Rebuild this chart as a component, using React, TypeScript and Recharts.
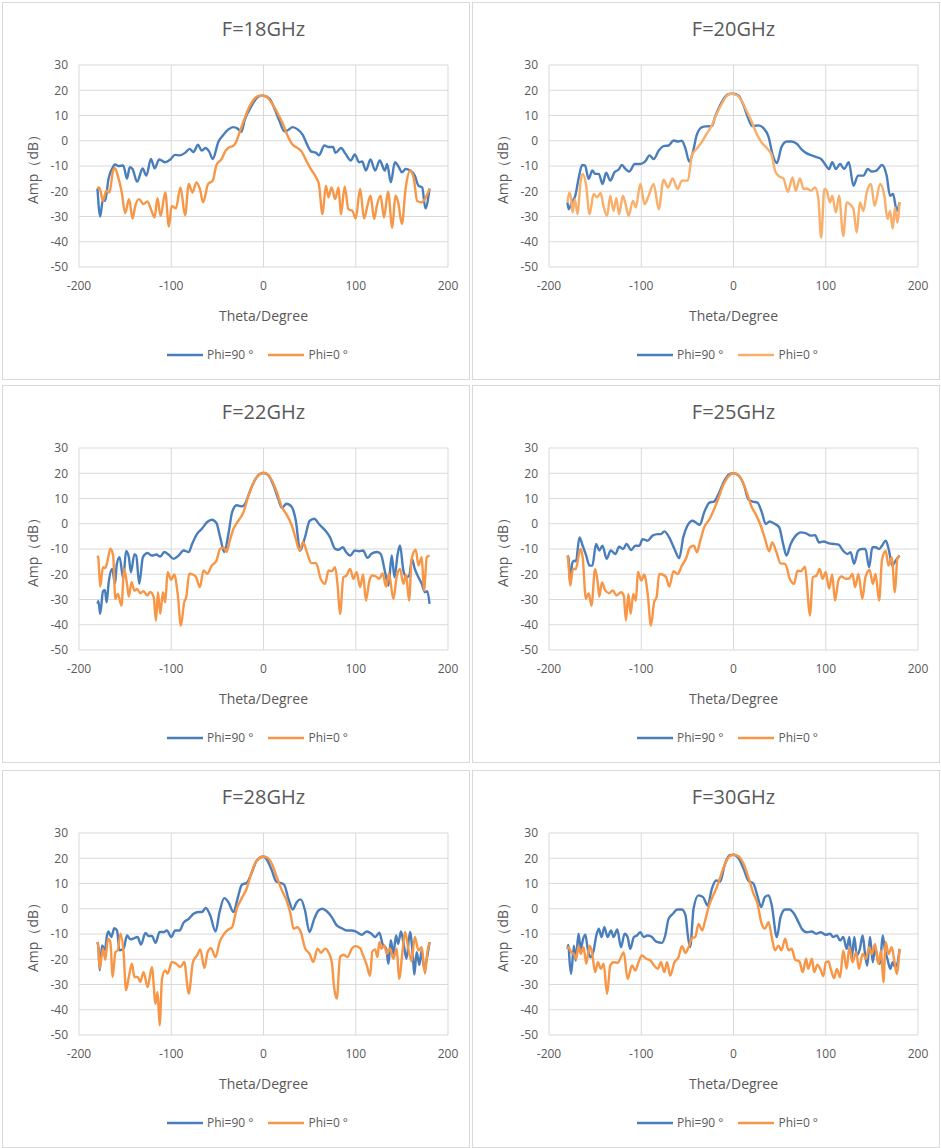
import { LineChart, Line, XAxis, YAxis, CartesianGrid, Legend } from 'recharts';

// Theta (deg) / amplitude (dB)
const THETA_18_P90 = [-180, -177, -174, -171.6, -168, -164, -161, -157, -152, -148, -145, -142, -137, -131, -127, -122, -118, -113, -107, -101, -96, -91, -85, -80, -76, -71, -67, -63, -59, -55, -49, -44, -38, -33, -28, -24, -20.5, -13, -8, -2.5, 0, 6.5, 12, 17, 22.7, 26, 31.7, 37, 42.4, 48, 51.4, 57, 60, 66, 70.5, 75.5, 78, 84, 89, 94.6, 99, 103.6, 107, 111, 116, 121, 126, 131.6, 134, 138, 142.4, 146.8, 150, 154, 159, 164, 168, 172, 175.5, 180];
const AMP_18_P90 = [-18.9, -30, -23, -23.8, -15, -11, -9.4, -10, -9.8, -15, -10.5, -11.2, -16.2, -11, -13.8, -7.2, -10.9, -7.4, -8.5, -7.4, -5.6, -5.8, -4.8, -3.2, -4.5, -1.6, -3.9, -2.9, -4.2, -7.2, -0.5, 2.1, 4.5, 5.4, 4.8, 3.5, 8.1, 13.8, 16.7, 17.8, 17.8, 16.7, 12.7, 8.1, 3.7, 4.1, 5.4, 4.5, 2.4, -2.1, -4.2, -4.8, -5.8, -1.9, -2.5, -2.5, -4.8, -2.9, -5.2, -7.8, -5.4, -8.5, -8.2, -11.8, -7.4, -11.8, -7.8, -11.8, -9.2, -16.5, -8.5, -10.5, -12.5, -11.2, -11.8, -13.8, -17.8, -18.5, -26.8, -19];
const THETA_18_P0 = [-180, -178, -174, -170.5, -167, -163, -161, -158, -153.6, -150, -145.7, -142, -139, -135, -130, -126, -122, -118, -115, -111.5, -106.5, -102.5, -99.6, -95, -90, -85, -81, -77, -72.7, -69, -65.5, -60, -55, -51, -45.7, -41, -36.7, -33, -29.5, -26, -20.5, -15, -9.7, -4.3, 0, 4.7, 10, 15.5, 20.9, 26, 31.7, 37, 41.7, 46.8, 51.4, 57, 60, 64, 67.6, 70.5, 73.7, 77.7, 81.3, 84, 88, 92, 96.4, 100, 104.7, 109, 112.6, 116, 120, 123, 127, 130.6, 135, 139.6, 143, 146, 150, 154, 159, 163, 166.5, 171, 175, 180];
const AMP_18_P0 = [-18.9, -18.5, -23.8, -19.8, -20.5, -11.8, -10.9, -13.8, -20.5, -28.7, -23.1, -30.8, -25.8, -23.1, -25.1, -24, -27.1, -30.4, -22.8, -29.7, -20.5, -34, -25.8, -26.8, -18.5, -29.5, -17.1, -20.5, -16.5, -19.1, -24.4, -17.1, -15.8, -9.6, -7.4, -3.9, -2.5, -2.1, -0.3, 3.2, 8.8, 13.7, 16.7, 17.8, 17.8, 17, 14.3, 10.8, 6.8, 2.1, -1.6, -2.9, -4.5, -8.2, -11.2, -14.5, -17.1, -29.1, -17.8, -22.4, -18.5, -23.1, -18.5, -29.1, -18.1, -27.1, -27.8, -30.8, -19.1, -30.8, -25.8, -21.8, -31, -25.5, -21.8, -30.4, -20.2, -34.4, -21.8, -24.4, -33, -19.1, -11.8, -15.1, -23.8, -24.4, -23.1, -18.9];

const THETA_20_P90 = [-180, -178.7, -175, -171.5, -168, -164, -161, -157, -153, -150, -146, -142, -138, -133.6, -129, -124.5, -121, -117, -113, -107, -101, -95.7, -91, -86.6, -81, -75.8, -70.4, -65, -60, -56, -52, -48, -44, -40, -34, -29, -23.5, -20, -14.4, -9, -3.6, 0, 5.4, 10.8, 16, 20.6, 27, 32.5, 38, 42.6, 47, 52, 57.8, 63, 68.6, 74, 79, 84.8, 90, 95, 99, 103.6, 107, 111, 115.5, 120, 125, 130, 135, 141, 145.5, 150, 155, 161, 166, 169.7, 173, 177, 180];
const AMP_20_P90 = [-24.4, -27.1, -24.2, -21.8, -15.1, -9.6, -9.8, -15.1, -11.8, -13.1, -13.1, -17.1, -12.7, -15.8, -12.5, -11.4, -9.6, -11.2, -12.2, -9.2, -9.2, -8.2, -5.8, -7.2, -3.9, -2.1, -1.9, 0.1, -0.3, 0, -3.2, -8.2, -4.5, 2.1, 5.4, 5.7, 5.8, 9.4, 14.1, 17.4, 18.6, 18.6, 17.8, 14.1, 8.8, 5.8, 6.1, 5, 1.5, -5.8, -8.8, -2.5, -0.3, -0.3, -1.2, -3.5, -4.9, -5.8, -6.5, -7.2, -9.2, -11.2, -8.5, -11.2, -9.2, -11.2, -8.5, -17.8, -13.8, -13.8, -11.2, -12.2, -11.8, -9.6, -13.8, -21.8, -21.1, -27.8, -24.4];
const THETA_20_P0 = [-180, -178, -176, -174.5, -172, -169, -166, -163.5, -160, -156, -151.6, -148, -144, -141, -137, -133.6, -130, -127, -124, -120, -117, -113.7, -109, -105.8, -101, -96.4, -92, -86.6, -81, -75.8, -71, -66, -60.6, -56, -49.5, -45, -40, -34, -29, -23.5, -18, -12.6, -7.2, -2.5, 3.6, 9, 14.4, 19.9, 25, 30.7, 36, 41.5, 45, 49.5, 54, 59, 64, 67.5, 72, 76, 79.4, 84, 88.4, 92, 95, 98.5, 101, 104.7, 107, 111, 114.4, 119, 122.7, 126, 130, 133.6, 137, 140.8, 144.4, 149, 153, 159, 163.5, 167, 169.7, 172.6, 175, 177.6, 180];
const AMP_20_P0 = [-24.4, -20.5, -23.1, -28.4, -23.1, -29.1, -17.1, -13.1, -17.1, -29.1, -21.1, -22.4, -20.7, -25.8, -29.7, -21.8, -27.8, -22.8, -29.1, -21.8, -25.1, -29.7, -23.8, -26.4, -17.1, -25.1, -21.8, -17.1, -27.1, -15.4, -18.5, -14.9, -19.1, -15.8, -15.8, -5.8, -3.2, -0.3, 2.8, 6.1, 10.8, 14.7, 17.8, 18.6, 18, 15.7, 11.7, 7.4, 2.8, -0.8, -2.9, -5.8, -11.8, -14.1, -14.9, -20.2, -14.5, -19.8, -14.9, -19.1, -18.9, -19.8, -18.5, -23.1, -38.4, -19.1, -19.8, -24.4, -21.8, -28.4, -21.8, -37.7, -24.4, -25.1, -27.1, -36.4, -24.4, -27.8, -20.5, -17.1, -25.8, -17.1, -21.8, -31, -27.8, -34.8, -26.4, -32.4, -24.4];

const THETA_22_P90 = [-180, -179, -177, -174, -172, -170, -168, -164, -161, -159, -156, -152, -149, -146, -143.7, -140, -138, -134.7, -130.7, -125.6, -121, -116, -112, -107.6, -103, -97.5, -92, -86.6, -81, -77.6, -72, -66.8, -61, -56, -51, -47, -42.6, -38, -34, -29, -23.5, -20, -14.4, -9, -3.6, 0, 5.4, 10.8, 16, 20, 25, 30.7, 35, 39.7, 45, 50, 55, 60.6, 66.8, 72, 77.6, 81, 86, 89.5, 94, 99, 103.6, 108, 112.6, 117, 122.7, 127, 131.8, 135.4, 139, 142, 145.5, 148, 151.6, 155, 158, 161, 164, 168, 171.5, 175, 177.6, 180];
const AMP_22_P90 = [-31.7, -30.7, -35.7, -26.7, -26.2, -31.1, -23.8, -17.9, -23.8, -15.9, -13.2, -21.8, -10.8, -13.2, -19.2, -12.2, -12.6, -23.8, -13.2, -11.6, -12.6, -12.2, -13, -11.2, -12.2, -13.9, -12.6, -10.6, -11.2, -8.2, -4, -2, 0.7, 1.6, 0.3, -5.3, -11.2, -4, 4.6, 7.3, 6.9, 7.9, 13.2, 17.5, 19.8, 20.1, 19.2, 15.2, 9.9, 6.3, 7.9, 6.6, 1.3, -10.6, -5.3, 1.1, 2, -0.3, -2.6, -5.3, -9.9, -10.3, -9.3, -11.2, -12.6, -10.6, -10.9, -10.6, -13.5, -11.9, -11.2, -11.9, -19.2, -24.5, -12.6, -21.2, -11.9, -8.6, -18.5, -21.2, -20.5, -13.9, -17.9, -21.2, -23.8, -27.1, -26.7, -31.7];
const THETA_22_P0 = [-180, -179, -177, -174, -171.5, -169, -166, -163, -160.6, -157.8, -154, -151, -148, -146, -143, -140, -137, -133.6, -130, -126, -122.7, -119, -116.6, -114.4, -112, -109, -106.5, -104, -100, -96.8, -93, -89.5, -86, -83.8, -80.5, -76.5, -73, -69, -65, -61, -56, -51, -47, -43, -40, -37, -32.5, -27, -21.7, -17.3, -12.6, -7.2, 0, 3.6, 9, 14.4, 19.9, 25, 30.7, 35, 39, 43, 47.6, 52, 57, 62, 66.8, 70.4, 74, 77.6, 80.5, 83, 86.6, 90, 93.9, 97.5, 101, 104.7, 108, 111, 114.8, 118, 122, 125.6, 129, 132.9, 136, 140.8, 144.4, 148, 151.6, 154.5, 157.8, 160.6, 165, 168, 171.5, 174, 177, 180];
const AMP_22_P0 = [-12.6, -13.9, -24.9, -17.2, -17.5, -14.6, -9.9, -12.6, -29.8, -27.8, -32.4, -17.9, -23.8, -28.8, -23.1, -26.5, -25.8, -27.5, -26.7, -28.4, -27, -29.1, -38.4, -27.1, -35.7, -27.1, -31.1, -19.2, -22.2, -20.1, -27.8, -40.3, -31.1, -29.1, -19.8, -20.1, -21.2, -25.1, -18.5, -19.8, -16.5, -14.6, -9.9, -9.5, -11.2, -7.3, -2, 1.3, 4.6, 9.9, 14.8, 18.5, 20.2, 19.8, 17.2, 12.6, 6.6, 3.7, -0.7, -6, -10.6, -7.3, -11.9, -15.6, -15.6, -21.8, -23.8, -18.5, -18.8, -17.2, -25.1, -35.7, -21.2, -20.5, -17.9, -21.8, -19.2, -25.1, -20.1, -30.4, -22.5, -20.5, -20.9, -21.8, -19.6, -24.9, -19.8, -29.8, -20.9, -17.9, -23.8, -20.1, -30.4, -13.9, -10.3, -16.5, -13.2, -26.5, -13.2, -12.6];

const THETA_25_P90 = [-180, -179, -177, -175, -172.6, -170.8, -167, -163.5, -160, -156, -153, -149, -145.5, -142, -137.5, -133, -128, -124, -119.5, -116, -111, -106.5, -102, -98.6, -93, -87.7, -82, -78.7, -75, -69.7, -64, -58.8, -54.5, -50, -44.4, -40.8, -36.5, -31.8, -26, -21, -15.5, -10, -4.7, 0, 6, 11.6, 16, 20.6, 26, 30.7, 35, 39, 44, 49.5, 53.8, 57.4, 62, 67.5, 73, 78, 83.8, 88.4, 92.8, 98, 103.6, 109, 114, 118.8, 123.5, 127, 130.7, 135, 139, 143, 147, 150.5, 154, 157.8, 161, 165, 168.6, 172, 175.8, 180];
const AMP_25_P90 = [-12.6, -13.3, -23.8, -15.9, -14.6, -14.9, -5.4, -8.7, -12.2, -16.6, -16.6, -8, -10.6, -8.7, -13.9, -10.6, -12, -9.1, -10, -8, -10.4, -8.7, -8.7, -6.1, -6.7, -4.7, -4.1, -4.1, -3, -5.4, -10, -13.6, -5.4, -0.8, 1.2, 0.5, -0.4, 4.5, 8.4, 8.8, 12.4, 17, 19.6, 20, 18.9, 15, 9.7, 8.8, 8.4, 4.5, -0.1, 0.9, 0.1, -1.4, -8, -12.6, -8, -4.7, -3.4, -3.7, -4.7, -4.5, -7.4, -7, -7.8, -8, -8.3, -10.7, -12, -11.3, -15.9, -10.7, -10, -10, -17.2, -9.3, -9.3, -10, -8.7, -6.7, -10.7, -16.6, -14.6, -12.6];
const THETA_25_P0 = [-180, -179, -177, -174, -171, -166, -163.5, -160, -157, -154, -150, -147, -145.5, -142.6, -139, -134.7, -131, -126.7, -122, -119, -116.6, -114, -111.5, -108.7, -105.8, -103.6, -100, -96.8, -93, -89.5, -86, -83.4, -80.5, -77, -73, -69.7, -65, -60.6, -56, -51.6, -47, -43, -39.7, -36, -31.8, -26, -21, -16, -12, -6.5, 0, 4.3, 9.7, 15, 20, 24, 29.6, 34.3, 38.6, 42, 46.6, 51, 56, 61, 65.7, 69.3, 73, 77.6, 80, 82.7, 86, 90, 93.5, 96.4, 100, 103.6, 107, 110, 113.7, 117, 121.7, 125, 129, 131.8, 135.4, 139.7, 143, 147.6, 151, 154, 157.8, 161, 165, 168, 171.5, 175, 177.6, 180];
const AMP_25_P0 = [-12.6, -14.9, -24.5, -17.9, -17.9, -10, -13.3, -29.7, -27.5, -32.4, -17.9, -23.8, -28.8, -23.2, -26.4, -27.5, -26.4, -28.4, -27.1, -28.4, -38.3, -27.8, -35.7, -27.8, -30.4, -19.1, -22.5, -20.1, -27.8, -40.3, -31, -29.1, -19.9, -20.1, -21.2, -24.9, -18.8, -19.9, -16.6, -13.9, -9.3, -8.7, -11.3, -6.7, -1.4, 1.8, 5.8, 10.4, 14.6, 18.3, 20, 19.6, 16.7, 11.7, 6.4, 3.8, -0.8, -6.1, -10.9, -7.4, -11.3, -15.7, -15.9, -21.8, -23.8, -18.6, -18.8, -17, -25.7, -36.3, -21.2, -20.5, -17.9, -21.8, -19.2, -25.7, -20.1, -30.4, -22.5, -20.9, -21.8, -21.8, -19.9, -25.1, -19.9, -29.7, -21.2, -18.3, -23.8, -19.9, -30.4, -14.3, -10.7, -16.6, -13.3, -27.1, -13.9, -12.6];

const THETA_28_P90 = [-180, -179, -177.6, -175, -172, -169.7, -168, -165, -161.7, -158.8, -156, -151.6, -148, -144.4, -140, -136.5, -132.8, -128, -124.5, -121, -117, -112.6, -108, -104.7, -100, -95.7, -91, -86.6, -81, -75.8, -70.4, -66.8, -62.5, -57.8, -52, -47.6, -42.6, -38, -32.5, -28, -23.5, -18, -12.6, -7.2, 0, 3.6, 9, 13.7, 18, 22.4, 27, 31.8, 36, 40.4, 45, 49.8, 55, 59.6, 64, 68.6, 74, 79.4, 84.8, 90, 95.7, 101, 106.5, 112, 117, 121, 125.6, 129, 133, 135.4, 138, 140.8, 143.7, 146, 149, 151.6, 155, 158.8, 161.7, 163.5, 166, 169, 171.5, 174, 177, 180];
const AMP_28_P90 = [-13.2, -15.2, -24.4, -14.5, -16.5, -10.6, -9, -11.2, -7.7, -8.6, -16.5, -15.8, -10.6, -12.1, -11.6, -11.2, -14.2, -9.6, -10.8, -10.8, -13.5, -9.2, -9.2, -8.6, -11.2, -8.6, -8.6, -5.5, -4, -2, -1.3, -1.3, 0.3, -2.6, -9, -1.3, 4.2, 2.6, -1.3, 4.2, 9.5, 10.3, 14.5, 19.1, 20.7, 19.5, 15.2, 10.8, 10.3, 9.5, 4, -0.3, 2.6, 3.7, -0.7, -9.2, -4, -0.7, 0, -1, -3.3, -6.6, -7.7, -8.6, -8.6, -9.2, -10.3, -9, -9.9, -11.2, -9.5, -13.9, -15.8, -21.8, -12.5, -17.8, -10.6, -13.9, -9, -13.2, -19.8, -9.2, -17.8, -26.1, -17.2, -22.2, -16.5, -23.7, -19.8, -13.2];
const THETA_28_P0 = [-180, -179, -177.6, -174, -171.5, -168.6, -166, -163.5, -160.6, -158, -155, -151.6, -149, -146, -142.6, -140, -136.5, -133.6, -130, -125.6, -121, -117, -114.8, -112.6, -110, -106.5, -104, -99.3, -94.6, -90, -86, -81, -76.5, -72, -68.6, -64, -60.6, -57, -52, -47.6, -42.6, -38, -34, -29, -23.5, -18, -12.6, -7.2, 0, 3.6, 9, 14.4, 19.9, 25, 29.6, 32.5, 36.8, 40.4, 45, 49.8, 54, 58.5, 62.5, 66.8, 70.4, 74, 76.5, 79.4, 83, 86.6, 91, 95.7, 99.3, 104.7, 108, 112, 115.5, 118, 121, 123.5, 125.6, 128, 131, 133.6, 137, 140.8, 144.4, 147, 151, 153.4, 157, 160.6, 164, 168, 171.5, 175, 177.6, 180];
const AMP_28_P0 = [-13.2, -15.2, -23.7, -15.8, -20.2, -11.9, -13.2, -27, -17.2, -16.5, -9.9, -17.8, -32.3, -27, -21.8, -27, -27, -29, -25.1, -31, -23.1, -37.6, -33, -46.2, -27.7, -24.4, -25.7, -21.1, -21.8, -23.1, -21.1, -33.6, -21.1, -18.5, -16.1, -23.5, -17.2, -15.6, -19.1, -13.2, -9.9, -8.2, -7.3, 0, 4.2, 8.2, 14.8, 19.1, 20.7, 20.4, 17.8, 12.5, 7.3, 3.3, -2.6, -7.9, -7.3, -9.2, -15.6, -17.8, -21.1, -15.8, -17.4, -15.8, -17.2, -21.1, -31, -35.6, -19.1, -18.2, -19.1, -15.8, -14.8, -15.6, -18.5, -22.4, -26.6, -16.9, -16.1, -19.1, -13.2, -15.8, -14.5, -17.8, -15.8, -19.8, -15.8, -27.7, -15.8, -9.2, -15.8, -20.8, -11.2, -16.5, -15.2, -25.7, -17.2, -13.2];

const THETA_30_P90 = [-180, -179, -177.6, -176, -173, -171, -168, -165.6, -163, -160.6, -158, -155, -151.6, -148.7, -146, -143, -140, -136.5, -132.8, -130, -126, -122, -118, -114.8, -112, -108, -104.7, -101, -97.5, -93, -88.4, -83.8, -77.6, -74, -70.4, -65.7, -61, -56, -52, -49.5, -47, -43.3, -38, -33, -28, -23.5, -18.8, -14.4, -9.7, -4.3, 0, 5.4, 10.8, 16, 21.7, 26, 30, 34, 38, 41.5, 47, 51, 56, 60.6, 65.7, 70.4, 74, 79.4, 85, 89.5, 94.6, 100, 104.7, 108, 112, 115.5, 119, 122.7, 125.6, 128, 131, 133.6, 137, 140, 142.6, 145, 148, 151, 153.4, 157, 158.8, 161.7, 164, 166.8, 170, 172.6, 175, 177.6, 180];
const AMP_30_P90 = [-15.9, -14.3, -21.2, -25.8, -14.6, -20.5, -9.9, -15.9, -11.9, -10.3, -15.9, -19.2, -16.5, -10.6, -7.9, -11.2, -7.3, -11.2, -8.6, -11.2, -8.2, -15.2, -9.9, -11.2, -15.9, -11.2, -10.6, -9.3, -11.2, -10.6, -11.2, -13, -13.5, -10.6, -4, -2, -0.3, -0.3, -2.6, -10.6, -15.2, 0, 5.3, 4.6, 1.3, 7.9, 11.2, 10.8, 17.2, 21.2, 21.4, 20.1, 15.9, 11.2, 9.9, 5, 0.7, 4.6, 5.3, 1.3, -11.2, -3.3, -0.3, -0.3, -2, -5.3, -7.9, -9.3, -9, -9.9, -9.3, -10.3, -9.9, -11.2, -10.6, -12.6, -11.2, -15.9, -11.2, -19.8, -11.2, -18.5, -15.9, -10.6, -17.9, -22.5, -11.2, -21.2, -15.2, -21.2, -21.8, -10.6, -15.9, -19.8, -23.8, -21.2, -23.1, -21.8, -15.9];
const THETA_30_P0 = [-180, -178.7, -176, -173, -170.5, -168, -165.6, -162.5, -159.6, -156, -153.4, -150, -147, -143.7, -140.8, -137, -133.6, -130, -125.6, -122, -119, -114.8, -110, -106.5, -103, -99.3, -94.6, -90, -86, -82, -78.7, -75, -72, -68.6, -64, -59.6, -56, -52, -48.7, -45, -41.5, -38, -34, -30.7, -27, -22.4, -18, -13.7, -9, -4.3, 0, 5.4, 10.8, 16, 21.7, 26, 30, 34, 38, 41.5, 45, 48.7, 52, 56, 59.6, 63, 66.8, 71.5, 75, 78.7, 81, 85, 87.4, 91, 94, 97.5, 100, 103, 105.4, 109, 112, 115.5, 119, 122.7, 125.6, 129, 133, 136, 140, 143.7, 147, 150, 153.4, 157, 160, 162.5, 165, 168, 171.5, 174, 177, 180];
const AMP_30_P0 = [-15.9, -15.2, -17.2, -17.9, -19.8, -14.8, -17.9, -15.2, -21.8, -14.6, -17.2, -25.1, -21.2, -23.8, -21.8, -33.7, -22.5, -21.2, -21.4, -19.2, -17.2, -27.8, -22.5, -24.5, -21.2, -18.5, -19.8, -20.5, -22.5, -23.8, -21.2, -25.1, -21.2, -26.5, -21.2, -19.2, -14.8, -17.5, -15.2, -11.6, -11.2, -6, -8.6, -4.6, 0.7, 5, 8.6, 13.2, 17.9, 20.8, 21.4, 20.8, 17.9, 12.6, 6, 2, -5.3, -7.9, -5.3, -11.2, -16.5, -14.6, -16.5, -11.9, -16.5, -15.8, -20.1, -20.9, -25.1, -19.8, -23.8, -19.8, -25.1, -22.2, -23.8, -26.7, -21.2, -20.9, -23.8, -27.5, -23.8, -27.1, -16.5, -23.8, -15.2, -21.2, -17.2, -23.8, -17.9, -19.8, -15.2, -17.9, -13.9, -21.8, -16.5, -29.1, -13.2, -17.9, -15.2, -19.8, -25.8, -15.9];

const X_TICKS = [-200, -100, 0, 100, 200];
const Y_TICKS = [-50, -40, -30, -20, -10, 0, 10, 20, 30];
const SERIES_NAMES = ['Phi=90 °', 'Phi=0 °'];

const BLUE = '#4A7EBB';
const ORANGE = '#F79646';
const TEXT = '#595959';
const GRID = '#D9D9D9';
const FONT = '"Open Sans", "Noto Sans", sans-serif';

const zip = (theta: number[], amp: number[]) => theta.map((t, i) => ({ theta: t, amp: amp[i] }));

const PANELS = [
  { title: 'F=18GHz', left: 2, top: 2, p90: zip(THETA_18_P90, AMP_18_P90), p0: zip(THETA_18_P0, AMP_18_P0), orange: ORANGE },
  { title: 'F=20GHz', left: 472, top: 2, p90: zip(THETA_20_P90, AMP_20_P90), p0: zip(THETA_20_P0, AMP_20_P0), orange: '#F9AE6A' },
  { title: 'F=22GHz', left: 2, top: 385, p90: zip(THETA_22_P90, AMP_22_P90), p0: zip(THETA_22_P0, AMP_22_P0), orange: ORANGE },
  { title: 'F=25GHz', left: 472, top: 385, p90: zip(THETA_25_P90, AMP_25_P90), p0: zip(THETA_25_P0, AMP_25_P0), orange: ORANGE },
  { title: 'F=28GHz', left: 2, top: 770, p90: zip(THETA_28_P90, AMP_28_P90), p0: zip(THETA_28_P0, AMP_28_P0), orange: ORANGE },
  { title: 'F=30GHz', left: 472, top: 770, p90: zip(THETA_30_P90, AMP_30_P90), p0: zip(THETA_30_P0, AMP_30_P0), orange: ORANGE },
];

// keep Excel's series order (Phi=90 first) instead of recharts' sorted payload
function LegendContent({ payload }: any) {
  const items = [...(payload || [])].sort(
    (a: any, b: any) => SERIES_NAMES.indexOf(a.value) - SERIES_NAMES.indexOf(b.value)
  );
  return (
    <div style={{ display: 'flex', justifyContent: 'center', alignItems: 'center', fontFamily: FONT, fontSize: 12, color: TEXT }}>
      {items.map((item: any, i: number) => (
        <div key={i} style={{ display: 'flex', alignItems: 'center', marginLeft: i ? 15 : 0 }}>
          <svg width={36} height={6} style={{ marginRight: 4 }}>
            <line x1={0} y1={3} x2={36} y2={3} stroke={item.color} strokeWidth={2.5} />
          </svg>
          <span>{item.value}</span>
        </div>
      ))}
    </div>
  );
}

function Panel({ panel }: { panel: (typeof PANELS)[number] }) {
  return (
    <div
      style={{
        position: 'absolute', left: panel.left, top: panel.top, width: 468, height: 378,
        boxSizing: 'border-box', border: `1px solid ${GRID}`, background: '#fff',
      }}
    >
      <div
        style={{
          position: 'absolute', left: 76, top: 13, width: 369, height: 26, lineHeight: '26px',
          textAlign: 'center', fontFamily: FONT, fontSize: 20, color: TEXT,
        }}
      >
        {panel.title}
      </div>
      <LineChart width={466} height={376} margin={{ top: 62, right: 21, left: 26, bottom: 74 }}>
        <CartesianGrid stroke={GRID} strokeWidth={1} />
        <XAxis
          type="number"
          dataKey="theta"
          domain={[-200, 200]}
          ticks={X_TICKS}
          height={38}
          axisLine={false}
          tickLine={false}
          tickSize={0}
          tickMargin={14}
          tick={{ fill: TEXT, fontSize: 12, fontFamily: FONT }}
          label={{ value: 'Theta/Degree', position: 'bottom', offset: 6, fill: TEXT, fontSize: 14, fontFamily: FONT }}
        />
        <YAxis
          type="number"
          domain={[-50, 30]}
          ticks={Y_TICKS}
          width={50}
          axisLine={false}
          tickLine={false}
          tickSize={0}
          tickMargin={11}
          tick={{ fill: TEXT, fontSize: 12, fontFamily: FONT }}
          label={{
            value: 'Amp（dB）', angle: -90, position: 'insideLeft', offset: 4,
            fill: TEXT, fontSize: 14, fontFamily: FONT, style: { textAnchor: 'middle' },
          }}
        />
        <Legend
          layout="horizontal"
          verticalAlign="middle"
          align="center"
          wrapperStyle={{ top: 343, left: 70, width: 369, height: 18 }}
          content={<LegendContent />}
        />
        <Line
          data={panel.p90}
          dataKey="amp"
          name={SERIES_NAMES[0]}
          type="monotone"
          stroke={BLUE}
          strokeWidth={2.4}
          dot={false}
          activeDot={false}
          isAnimationActive={false}
        />
        <Line
          data={panel.p0}
          dataKey="amp"
          name={SERIES_NAMES[1]}
          type="monotone"
          stroke={panel.orange}
          strokeWidth={2.4}
          dot={false}
          activeDot={false}
          isAnimationActive={false}
        />
      </LineChart>
    </div>
  );
}

export default function App() {
  return (
    <div style={{ position: 'absolute', left: 0, top: 0, width: 941, height: 1148, background: '#fff' }}>
      {PANELS.map((p) => (
        <Panel key={p.title} panel={p} />
      ))}
    </div>
  );
}
